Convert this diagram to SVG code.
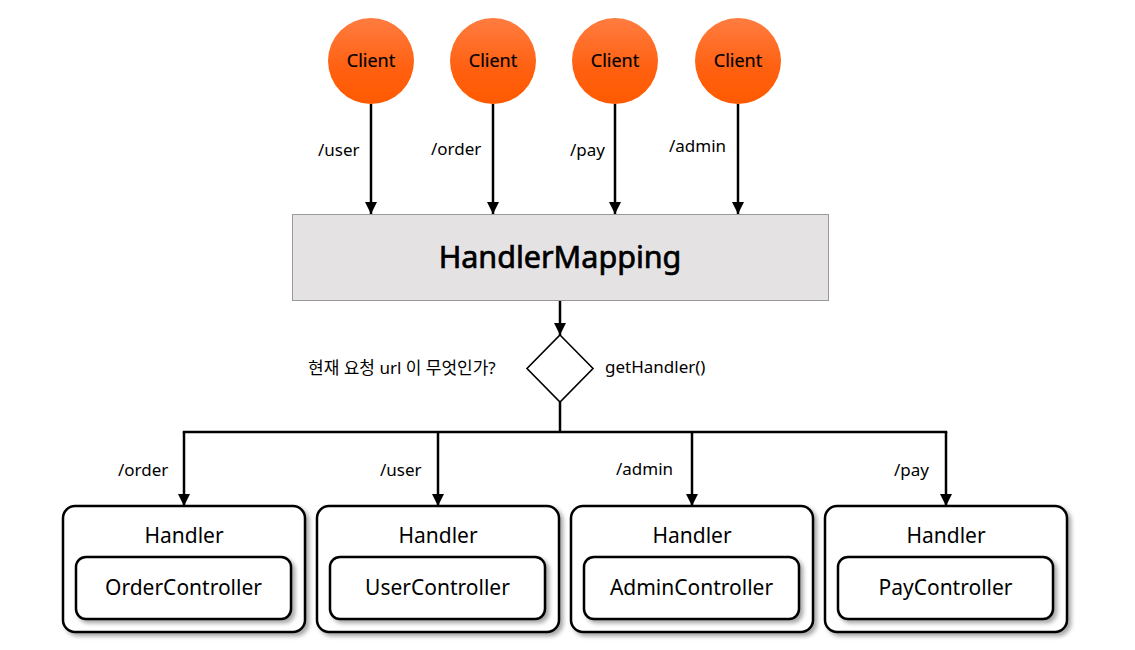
<svg xmlns="http://www.w3.org/2000/svg" width="1135" height="650" viewBox="0 0 1135 650">
  <style>
    text { font-family: "Noto Sans", "Noto Sans CJK KR", sans-serif; fill: #000; }
    .client { font-size: 18px; text-anchor: middle; stroke: #000; stroke-width: 0.2; }
    .lbl { font-size: 17px; }
    .title { font-size: 30.5px; text-anchor: middle; stroke: #000; stroke-width: 0.7; }
    .hnd { font-size: 21px; text-anchor: middle; }
    .wire { stroke: #000; stroke-width: 2.5; fill: none; }
    .box { fill: #fff; stroke: #000; stroke-width: 2.5; }
  </style>
  <defs>
    <linearGradient id="clientFill" x1="0" y1="0" x2="0" y2="1">
      <stop offset="0" stop-color="#ff7c40"/>
      <stop offset="0.6" stop-color="#ff6010"/>
      <stop offset="1" stop-color="#ff5a00"/>
    </linearGradient>
    <marker id="arrow" viewBox="0 0 10 10" refX="10" refY="5" markerWidth="5" markerHeight="5" orient="auto" markerUnits="strokeWidth">
      <path d="M0,0 L10,5 L0,10 z" fill="#000"/>
    </marker>
    <filter id="shadow" x="-10%" y="-10%" width="125%" height="130%">
      <feDropShadow dx="3" dy="3" stdDeviation="2" flood-color="#000" flood-opacity="0.35"/>
    </filter>
  </defs>

  <!-- connectors -->
  <g id="connectors">
    <line class="wire" x1="371" y1="104" x2="371" y2="214" marker-end="url(#arrow)"/>
    <line class="wire" x1="493" y1="104" x2="493" y2="214" marker-end="url(#arrow)"/>
    <line class="wire" x1="615" y1="104" x2="615" y2="214" marker-end="url(#arrow)"/>
    <line class="wire" x1="738" y1="104" x2="738" y2="214" marker-end="url(#arrow)"/>
    <line class="wire" x1="560" y1="300" x2="560" y2="335" marker-end="url(#arrow)"/>
    <line class="wire" x1="560" y1="402" x2="560" y2="432" stroke-width="3"/>
    <line class="wire" x1="182.75" y1="432" x2="947.25" y2="432"/>
    <line class="wire" x1="184" y1="432" x2="184" y2="506" marker-end="url(#arrow)"/>
    <line class="wire" x1="438" y1="432" x2="438" y2="506" marker-end="url(#arrow)"/>
    <line class="wire" x1="692" y1="432" x2="692" y2="506" marker-end="url(#arrow)"/>
    <line class="wire" x1="946" y1="432" x2="946" y2="506" marker-end="url(#arrow)"/>
    <text class="lbl" x="318" y="156">/user</text>
    <text class="lbl" x="431" y="155">/order</text>
    <text class="lbl" x="570" y="156">/pay</text>
    <text class="lbl" x="669" y="152">/admin</text>
    <text class="lbl" x="118" y="476">/order</text>
    <text class="lbl" x="380" y="476">/user</text>
    <text class="lbl" x="616" y="475">/admin</text>
    <text class="lbl" x="894" y="476">/pay</text>
  </g>

  <!-- clients -->
  <g id="client1">
    <circle cx="371" cy="61" r="43" fill="url(#clientFill)"/>
    <text class="client" x="371" y="67">Client</text>
  </g>
  <g id="client2">
    <circle cx="493" cy="61" r="43" fill="url(#clientFill)"/>
    <text class="client" x="493" y="67">Client</text>
  </g>
  <g id="client3">
    <circle cx="615" cy="61" r="43" fill="url(#clientFill)"/>
    <text class="client" x="615" y="67">Client</text>
  </g>
  <g id="client4">
    <circle cx="738" cy="61" r="43" fill="url(#clientFill)"/>
    <text class="client" x="738" y="67">Client</text>
  </g>

  <!-- handler mapping -->
  <g id="handlerMapping">
    <rect x="292.5" y="214.5" width="536" height="86" fill="#e4e2e2" stroke="#999" stroke-width="1"/>
    <text class="title" x="560" y="268">HandlerMapping</text>
  </g>

  <!-- decision -->
  <g id="decision">
    <polygon points="560,335 593,368.5 560,402 527,368.5" fill="#fff" stroke="#000" stroke-width="1.6"/>
    <text class="lbl" x="308" y="374">현재 요청 url 이 무엇인가?</text>
    <text class="lbl" x="605" y="373">getHandler()</text>
  </g>

  <!-- handlers -->
  <g id="handlerOrder">
    <rect class="box" x="63" y="506" width="242" height="126" rx="12" filter="url(#shadow)"/>
    <text class="hnd" x="184" y="543">Handler</text>
    <rect class="box" x="76" y="557" width="215" height="62" rx="10" filter="url(#shadow)"/>
    <text class="hnd" x="183.5" y="595">OrderController</text>
  </g>
  <g id="handlerUser">
    <rect class="box" x="317" y="506" width="242" height="126" rx="12" filter="url(#shadow)"/>
    <text class="hnd" x="438" y="543">Handler</text>
    <rect class="box" x="330" y="557" width="215" height="62" rx="10" filter="url(#shadow)"/>
    <text class="hnd" x="437.5" y="595">UserController</text>
  </g>
  <g id="handlerAdmin">
    <rect class="box" x="571" y="506" width="242" height="126" rx="12" filter="url(#shadow)"/>
    <text class="hnd" x="692" y="543">Handler</text>
    <rect class="box" x="584" y="557" width="215" height="62" rx="10" filter="url(#shadow)"/>
    <text class="hnd" x="691.5" y="595">AdminController</text>
  </g>
  <g id="handlerPay">
    <rect class="box" x="825" y="506" width="242" height="126" rx="12" filter="url(#shadow)"/>
    <text class="hnd" x="946" y="543">Handler</text>
    <rect class="box" x="838" y="557" width="215" height="62" rx="10" filter="url(#shadow)"/>
    <text class="hnd" x="945.5" y="595">PayController</text>
  </g>
</svg>
